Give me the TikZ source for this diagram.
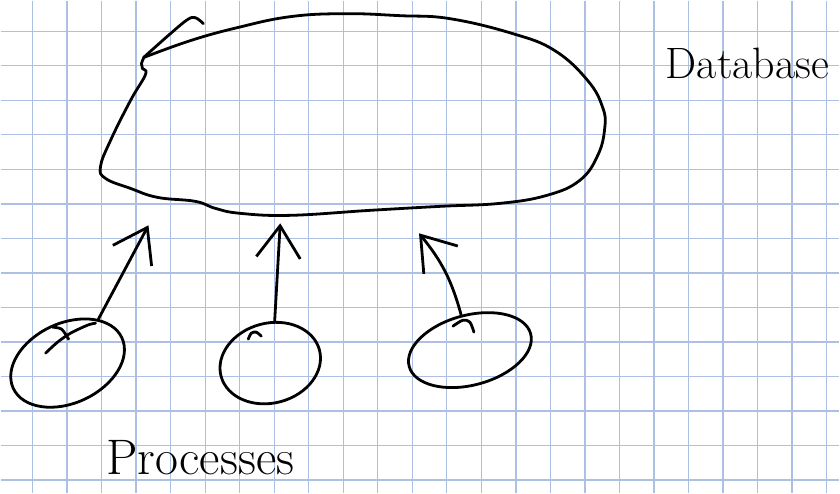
\documentclass[tikz,border=0pt]{standalone}
\usepackage{fontspec}
\usetikzlibrary{shapes.geometric,arrows.meta}
\definecolor{gridblue}{RGB}{172,192,228}
\begin{document}
\begin{tikzpicture}[
    x=1pt, y=-1pt,
    gridline/.style={draw=gridblue, line width=1.4pt},
    ink/.style={line width=2.8pt, line cap=round, line join=round},
    proc/.style={ellipse, draw, ink, inner sep=0pt},
    flow/.style={ink, -{Straight Barb[length=32pt, width=44pt]}},
    hand/.style={font=\fontsize{44}{50}\selectfont, inner sep=0pt}
]
    % --- Grid paper ---
    \fill[white] (0,0) rectangle (840,493);
    \foreach \i in {0,...,23}
        \draw[gridline] ({32+34.57*\i},0) -- ({32+34.57*\i},493);
    \foreach \j in {0,...,13}
        \draw[gridline] (0,{30.6+34.57*\j}) -- (840,{30.6+34.57*\j});

    % --- Database ---
    \draw[ink] plot[smooth, tension=0.6] coordinates {(143,57) (170,33) (187,19) (195,17) (203,23)};
    \draw[ink] plot[smooth, tension=0.7] coordinates {(143,57) (190,40) (237,27) (290,16)
        (345,13) (400,15) (450,18) (513,33) (555,50) (588,80) (603,107)
        (605,128) (598,155) (580,180) (547,195) (500,203) (440,206)
        (370,210) (290,215) (240,213) (215,208) (195,201) (157,197) (130,188)
        (105,178) (100,166) (110,140) (130,100) (145,74) (142,68) (141,63) (143,58)};
    \node[hand] (dbname) at (748,63) {Database};

    % --- Processes ---
    \node[proc, minimum width=120pt, minimum height=80pt, rotate=25] (p1) at (67,363) {};
    \node[proc, minimum width=102pt, minimum height=80pt, rotate=15] (p2) at (270,363) {};
    \node[proc, minimum width=126pt, minimum height=70pt, rotate=15] (p3) at (470,350) {};
    \draw[ink] plot[smooth] coordinates {(52,327) (61,329) (68,339)};
    \draw[ink] plot[smooth] coordinates {(45,353) (57,342) (70,333) (87,325) (95,323)};
    \draw[ink] plot[smooth] coordinates {(248,339) (251,333) (256,332) (261,336)};
    \draw[ink] plot[smooth] coordinates {(453,326) (463,320) (470,322) (474,332)};
    \node[hand, font=\fontsize{50}{56}\selectfont] (proclabel) at (200,458) {Processes};

    % --- Writes into the database ---
    \coordinate (in1) at (148,225);
    \coordinate (in2) at (280,223);
    \coordinate (in3) at (419,233);
    \draw[flow] (p1.30) -- (in1);
    \draw[flow] (p2.69) -- (in2);
    \draw[flow] (p3.89) to[bend right=12] (in3);

    \useasboundingbox (0,0) rectangle (840,493);
\end{tikzpicture}
\end{document}
